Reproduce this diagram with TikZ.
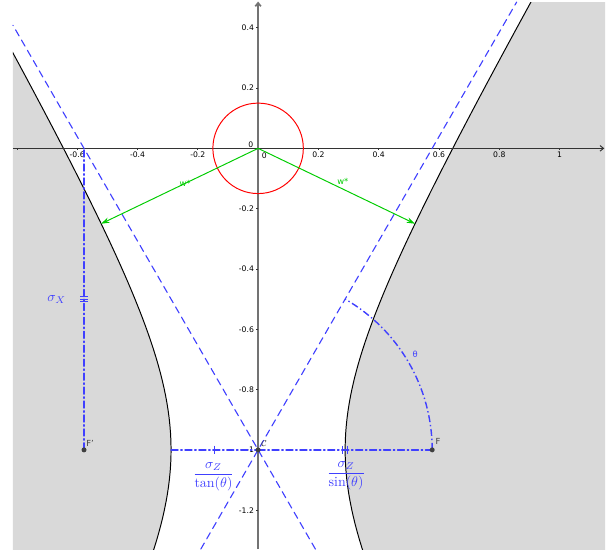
\documentclass[tikz,border=0pt]{standalone}
\usepackage{amsmath}
\usepackage{fontspec}
\setsansfont{DejaVu Sans}
\usetikzlibrary{arrows.meta,calc}
\usepackage{tkz-euclide}
\definecolor{ShadeClr}{gray}{0.85}
\definecolor{LineClr}{rgb}{0.25,0.25,1}
\definecolor{VecClr}{rgb}{0,0.8,0}
\definecolor{PtClr}{gray}{0.25}
\definecolor{AxisClr}{gray}{0.45}
\newcommand{\ticklbl}{\sffamily\fontsize{5.5}{6}\selectfont}
\tikzset{
  axisline/.style={line width=.7pt,color=black!80,-{Straight Barb[length=2.5pt,width=4pt]}},
  dashdot/.style={line width=1pt,color=LineClr,dash pattern=on 5pt off 2pt on 1pt off 2pt},
  asym/.style={line width=.8pt,color=LineClr,dash pattern=on 5pt off 3.5pt},
  wvec/.style={line width=.7pt,color=VecClr,-{Stealth[length=6pt,width=4pt]}},
  ptlbl/.style={font=\sffamily\fontsize{6}{7}\selectfont,text=PtClr,inner sep=0pt}
}

\begin{document}
\begin{tikzpicture}[x=7.6cm,y=7.6cm]
\useasboundingbox (-0.856,-1.352) rectangle (1.177,0.492);
\tkzDefPoint(0,0){O}
\tkzDefPoint(0,-1){C}
\tkzDefPoint(0.5774,-1){F}
\tkzDefPoint(-0.5774,-1){Fp}
\tkzDefPoint(-0.5774,0){Fq}
\tkzDefPoint(-0.2887,-1){V}
\tkzDefPoint(-0.5204,-0.25){W1}
\tkzDefPoint(0.5204,-0.25){W2}
\tkzDefPoint(-0.19,-1.329){A1}
\tkzDefPoint(0.8574,0.485){A2}
\tkzDefPoint(0.19,-1.329){B1}
\tkzDefPoint(-0.813,0.4081){B2}
\tkzDefPoint(-0.813,0){Xa}
\tkzDefPoint(1.148,0){Xb}
\tkzDefPoint(0,-1.329){Ya}
\tkzDefPoint(0,0.487){Yb}

% shaded outside of the hyperbola
\begin{scope}
\clip (-0.813,-1.329) rectangle (1.151,0.485);
\fill[ShadeClr] plot[domain=-1.4:0.6,samples=80] ({-0.2887*sqrt(1+4*(\x+1)*(\x+1))},\x) -- (-1,0.6) -- (-1,-1.4) -- cycle;
\fill[ShadeClr] plot[domain=-1.4:0.6,samples=80] ({0.2887*sqrt(1+4*(\x+1)*(\x+1))},\x) -- (1.3,0.6) -- (1.3,-1.4) -- cycle;
\draw[line width=.7pt] plot[domain=-1.4:0.6,samples=80] ({-0.2887*sqrt(1+4*(\x+1)*(\x+1))},\x);
\draw[line width=.7pt] plot[domain=-1.4:0.6,samples=80] ({0.2887*sqrt(1+4*(\x+1)*(\x+1))},\x);
\end{scope}

% axes
\draw[axisline] (Xa) -- (Xb);
\draw[axisline,color=AxisClr,line width=1.2pt] (Ya) -- (Yb);
\foreach \t in {-0.8,-0.6,-0.4,-0.2,0.2,0.4,0.6,0.8,1}
  \draw[black!80,line width=.5pt] (\t,0) -- ++(0,-0.007);
\foreach \t in {0.4,0.2,-0.2,-0.4,-0.6,-0.8,-1,-1.2}
  \draw[black!80,line width=.5pt] (0,\t) -- ++(-0.007,0);
\foreach \t [count=\i] in {-0.6,-0.4,-0.2,0.2,0.4,0.6,0.8,1}
  \node[font=\ticklbl,anchor=north,inner sep=0pt] (xl\i) at (\t,-0.012) {\t};
\foreach \t [count=\i] in {0.4,0.2,-0.2,-0.4,-0.6,-0.8,-1,-1.2}
  \node[font=\ticklbl,anchor=east,inner sep=0pt] (yl\i) at (-0.013,\t) {\t};
\node[font=\ticklbl,inner sep=0pt] (zx) at (0.021,-0.024) {0};
\node[font=\ticklbl,inner sep=0pt] (zy) at (-0.024,0.013) {0};

\draw[red,line width=.7pt] (O) circle (0.15);

\tkzDrawSegments[asym](A1,A2 B1,B2)
\tkzDrawSegments[dashdot](Fp,Fq V,C C,F)
\draw[dashdot] (F) arc[start angle=0,end angle=60,radius=0.5774];
% marks on the segments
\draw[LineClr,line width=.8pt] ($(Fp)!.5!(Fq)+(-2.8pt,-1.6pt)$) -- ++(5.6pt,0)
  ($(Fp)!.5!(Fq)+(-2.8pt,0)$) -- ++(5.6pt,0)
  ($(Fp)!.5!(Fq)+(-2.8pt,1.6pt)$) -- ++(5.6pt,0);
\tkzMarkSegment[color=LineClr,line width=.8pt,mark=|,size=3pt](V,C)
\tkzMarkSegment[color=LineClr,line width=.8pt,mark=||,size=3pt](C,F)

\draw[wvec] (O) -- (W1);
\draw[wvec] (O) -- (W2);
\node[font=\sffamily\fontsize{6}{7}\selectfont,text=VecClr,inner sep=0pt] (w1) at (-0.242,-0.117) {w*};
\node[font=\sffamily\fontsize{6}{7}\selectfont,text=VecClr,inner sep=0pt] (w2) at (0.281,-0.109) {w*};

\node[text=LineClr] (sx) at (-0.668,-0.5) {$\sigma_X$};
\node[text=LineClr] (st) at (-0.148,-1.088) {$\dfrac{\sigma_Z}{\tan(\theta)}$};
\node[text=LineClr] (ss) at (0.292,-1.086) {$\dfrac{\sigma_Z}{\sin(\theta)}$};
\node[font=\sffamily\fontsize{6}{7}\selectfont,text=LineClr,inner sep=0pt] (th) at (0.521,-0.684) {θ};

\foreach \p in {F,Fp,C} \fill[PtClr] (\p) circle (1.8pt);
\node[ptlbl] (lF) at (0.597,-0.972) {F};
\node[ptlbl] (lFp) at (-0.557,-0.978) {F'};
\node[ptlbl] (lC) at (0.02,-0.978) {$\mathcal{C}$};
\end{tikzpicture}
\end{document}
